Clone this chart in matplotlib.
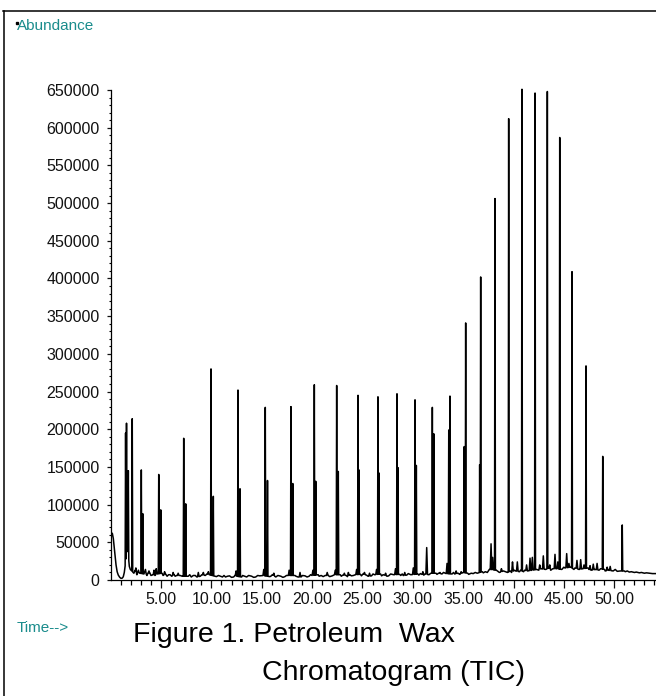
import numpy as np
import matplotlib.pyplot as plt
from matplotlib.lines import Line2D

plt.rcParams['font.family'] = ['Liberation Sans', 'DejaVu Sans']

W, H = 656, 696
teal = '#1a8c8c'

# main peaks (n-alkanes): retention time [min], abundance
peak_times = [1.48, 1.57, 1.75, 2.14, 3.04, 3.18, 4.77, 4.97, 7.25, 7.45,
              9.96, 10.19, 12.64, 12.84, 15.35, 15.57, 17.90, 18.08, 20.22, 20.36,
              22.44, 22.60, 24.56, 24.66, 26.54, 26.64, 28.43, 28.53, 30.22, 30.35,
              31.94, 32.08, 33.57, 33.69, 35.11, 35.25, 36.64, 36.74, 38.16, 39.52,
              40.84, 42.14, 43.36, 44.59, 45.81, 47.20, 48.86, 50.80]
peak_heights = [195000, 208000, 145000, 214000, 146000, 88000, 140000, 93000, 188000, 101000,
                280000, 111000, 252000, 121000, 229000, 132000, 230000, 128000, 259000, 131000,
                258000, 144000, 245000, 146000, 243000, 142000, 247000, 149000, 239000, 152000,
                229000, 194000, 199000, 244000, 177000, 341000, 153000, 402000, 506000, 612000,
                651000, 646000, 648000, 587000, 409000, 284000, 164000, 73000]

# small peaks / noise spikes
minor_times = [2.50, 2.75, 3.45, 3.80, 4.30, 4.52, 5.35, 6.20, 6.70, 8.70,
               9.20, 9.70, 12.45, 15.20, 16.20, 17.72, 18.80, 20.08, 21.50, 22.30,
               23.20, 23.60, 24.42, 25.20, 25.70, 26.40, 27.30, 28.28, 29.20, 30.05,
               31.00, 31.38, 32.70, 33.40, 34.30, 34.80, 37.77, 37.93, 38.80, 39.90,
               40.38, 41.30, 41.64, 41.87, 42.60, 42.96, 43.60, 44.12, 44.40, 45.28,
               45.50, 46.30, 46.67, 47.00, 47.60, 47.92, 48.30, 49.30, 49.60]
minor_heights = [16000, 13000, 14000, 12000, 13000, 15000, 11000, 10000, 9000, 10000,
                 10000, 11000, 12000, 14000, 9000, 13000, 10000, 13000, 10000, 13000,
                 9000, 10000, 14000, 10000, 9000, 14000, 9000, 15000, 10000, 16000,
                 11000, 43000, 10000, 22000, 12000, 11000, 48000, 30000, 15000, 24000,
                 24000, 20000, 29000, 30000, 20000, 32000, 20000, 34000, 24000, 35000,
                 22000, 26000, 27000, 20000, 19000, 21000, 22000, 17000, 18000]

# baseline incl. solvent hump at the start (abundance in thousands)
base_times = [0.0, 0.08, 0.16, 0.26, 0.36, 0.45, 0.53, 0.64, 0.75, 0.9, 1.02, 1.15, 1.25, 1.35,
              1.64, 1.68, 1.85, 1.95, 2.3, 2.4, 2.6, 2.68, 2.9, 3.3, 3.38, 3.6, 3.7, 3.9, 4.0,
              4.2, 4.4, 4.6, 5.1, 5.2, 5.45, 5.6, 5.75, 5.9, 6.05, 6.3, 6.4, 6.55, 6.9, 7.1,
              7.7, 7.85, 8.0, 8.2, 8.4, 8.55, 8.9, 9.05, 9.4, 9.55, 9.8, 10.5, 10.7, 10.9,
              11.1, 11.25, 11.4, 11.6, 11.8, 12.0, 12.2, 12.35, 12.5, 13.0, 13.1, 13.3, 13.5,
              13.7, 14.0, 14.2, 14.4, 14.6, 14.8, 15.1, 15.8, 15.9, 16.05, 16.4, 16.6, 16.9,
              17.1, 17.3, 17.45, 17.6, 18.3, 18.4, 18.6, 18.9, 19.05, 19.3, 19.5, 19.7, 19.85,
              20.0, 20.6, 20.7, 20.9, 21.1, 21.3, 21.6, 21.75, 22.0, 22.2, 22.8, 22.9, 23.05,
              23.4, 23.5, 23.75, 23.9, 24.1, 24.3, 24.8, 24.9, 25.05, 25.4, 25.55, 25.9, 26.05,
              26.2, 26.8, 26.9, 27.05, 27.2, 27.45, 27.6, 27.8, 28.1, 28.7, 28.8, 28.95, 29.05,
              29.4, 29.55, 29.8, 30.5, 30.6, 30.75, 30.9, 31.1, 31.2, 31.6, 31.8, 32.3, 32.4,
              32.55, 32.9, 33.05, 33.3, 33.9, 34.05, 34.15, 34.5, 34.65, 35.0, 35.45, 35.55,
              35.8, 36.0, 36.2, 36.4, 36.9, 37.0, 37.2, 37.4, 37.6, 38.3, 38.4, 38.6, 39.0,
              39.2, 39.4, 39.7, 39.8, 40.1, 40.2, 40.6, 40.7, 41.0, 41.1, 41.4, 42.3, 42.5,
              42.7, 43.2, 43.5, 43.7, 43.9, 44.3, 44.8, 45.0, 45.1, 45.7, 46.0, 46.1, 46.5,
              46.9, 47.4, 47.5, 47.7, 48.1, 48.5, 48.65, 49.05, 49.1, 49.4, 49.9, 50.1, 50.3,
              50.6, 51.0, 51.1, 51.3, 51.5, 51.7, 52.0, 52.2, 52.5, 52.7, 53.0, 53.2, 53.5,
              53.8, 54.15]
base_levels_k = [52, 60, 62, 55, 42, 30, 20, 11, 6.6, 3.5, 2.2, 2.5, 4.4, 10,
                 40, 42, 18, 14, 9, 12, 7, 10, 9, 8, 11, 6, 9, 9, 6,
                 7, 6, 8, 9, 6, 8, 5, 7, 7, 5, 7, 5, 6, 6, 5,
                 5, 7, 4, 6, 6, 4, 5, 7, 6, 8, 7, 4.5, 6, 5,
                 4, 6, 4, 5, 5.5, 3.5, 4, 6, 5, 4, 6, 5, 4,
                 6, 5, 3.5, 4, 6, 5.5, 6, 4.5, 5, 7, 4, 6, 5,
                 3.5, 4.5, 6, 6, 6, 5, 4, 4, 6, 5.5, 4, 5, 7,
                 6, 7, 5, 6, 4.5, 6, 6, 4.5, 5.5, 7, 7, 5, 6.5,
                 6, 4.5, 7, 5.5, 6, 7, 7.5, 5.5, 8, 6.5, 5, 5.5, 8,
                 7, 8, 5.5, 7, 6.5, 5, 5.5, 8, 7, 7.5, 6, 8, 6,
                 6.5, 8.5, 7, 8, 6.5, 8.5, 7.5, 6.5, 8, 7, 9, 9, 7.5,
                 9, 8, 10, 8.5, 8, 10, 8, 9, 7.5, 10, 9, 7.5,
                 9, 8.5, 10, 9, 11, 9.5, 11, 10, 14, 13, 12, 10, 12,
                 11, 10, 12, 10, 13, 12, 11, 13, 11, 13, 12, 14, 13,
                 15, 14, 16, 13, 15, 15, 14, 17, 16, 17, 14, 16, 14,
                 15, 16, 14, 13, 14, 13, 15, 14, 12, 13, 12, 14, 11.5,
                 12, 12, 11, 12, 10.5, 11, 10, 10.5, 9.5, 10, 9, 9.5, 9,
                 8.5, 8.5]

# build the trace: baseline with narrow spikes on top
bt = np.array(base_times)
bl = np.array(base_levels_k) * 1000
pt = np.concatenate([peak_times, minor_times])
ph = np.concatenate([peak_heights, minor_heights])
pw = np.concatenate([np.full(len(peak_times), 0.045), np.full(len(minor_times), 0.08)])

keep = np.ones(len(bt), bool)
for t, w in zip(pt, pw):
    keep &= ~((bt > t - w) & (bt < t + w))
xs = list(bt[keep])
ys = list(bl[keep])
for t, h, w in zip(pt, ph, pw):
    xs += [t - w, t, t + w]
    ys += [np.interp(t - w, bt, bl), h, np.interp(t + w, bt, bl)]
order = np.argsort(xs, kind='stable')
xs = np.array(xs)[order]
ys = np.array(ys)[order]

fig = plt.figure(figsize=(W / 100, H / 100), dpi=100)
ax = fig.add_axes([110.7 / W, 116 / H, 1 - 110.7 / W, (580 - 78.7) / H])
ax.plot(xs, ys, color='black', lw=1.1)

ax.set_xlim(0, 54.15)
ax.set_ylim(0, 665000)
ax.spines[['top', 'right']].set_visible(False)
ax.spines['left'].set_bounds(0, 650000)
for s in ['left', 'bottom']:
    ax.spines[s].set_linewidth(0.9)

xt = np.arange(5, 55, 5)
ax.set_xticks(xt)
ax.set_xticklabels([f'{v:.2f}' for v in xt])
ax.set_xticks(np.arange(1, 55), minor=True)
yt = np.arange(0, 650001, 50000)
ax.set_yticks(yt)
ax.set_yticklabels([str(v) for v in yt])
ax.set_yticks(np.arange(0, 650001, 10000), minor=True)
ax.tick_params(axis='x', which='major', length=6, width=0.9, pad=3, labelsize=11.5, colors='#111111')
ax.tick_params(axis='x', which='minor', length=3.6, width=0.9)
ax.tick_params(axis='y', which='major', length=3, width=0.9, pad=5, labelsize=11.5, colors='#111111')
ax.tick_params(axis='y', which='minor', length=1.8, width=0.8)

# texts in pixel positions
def fx(x):
    return x / W

def fy(y):
    return 1 - y / H

fig.text(fx(17), fy(30), 'Abundance', color=teal, fontsize=11, va='baseline')
fig.text(fx(17), fy(632), 'Time-->', color=teal, fontsize=11, va='baseline')
fig.text(fx(133), fy(642), 'Figure 1. Petroleum  Wax', fontsize=20.5, va='baseline')
fig.text(fx(262), fy(680), 'Chromatogram (TIC)', fontsize=20.5, va='baseline')

# outer frame (left and top edges)
fig.add_artist(Line2D([fx(3.5), fx(3.5)], [fy(10.5), fy(H + 5)], color='black', lw=1.1))
fig.add_artist(Line2D([fx(3), fx(W + 5)], [fy(10.5), fy(10.5)], color='black', lw=1.1))
fig.add_artist(Line2D([fx(16.7)], [fy(23.3)], marker='s', ms=1.5, color='black', lw=0))

fig.savefig('out.png', dpi=100)
